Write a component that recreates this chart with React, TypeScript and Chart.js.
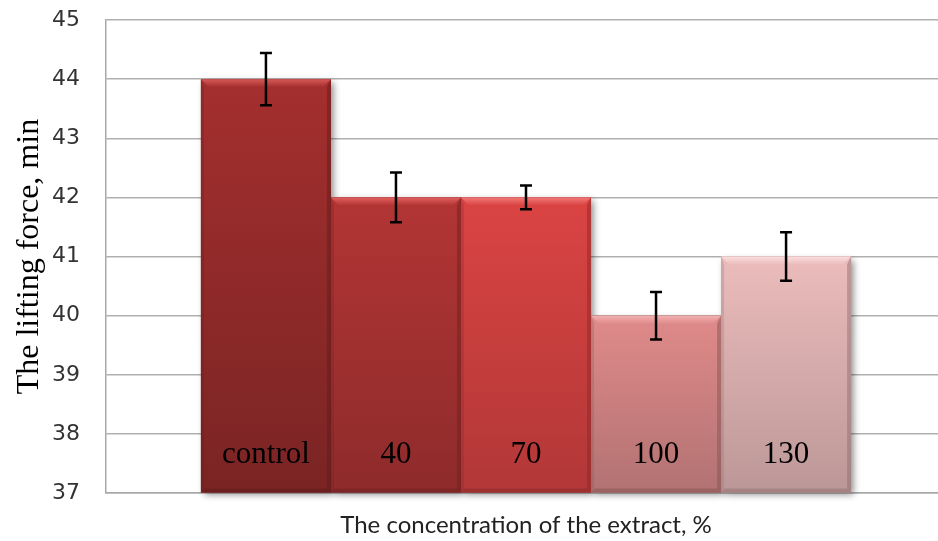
import React, { useEffect, useRef } from "react";
import { Chart, registerables } from "chart.js";

Chart.register(...registerables);

const categories = ["control", "40", "70", "100", "130"];
const values = [44, 42, 42, 40, 41];
const errors = [0.44, 0.42, 0.2, 0.4, 0.41];
const yMin = 37;
const yMax = 45;
const yTitle = "The lifting force, min";
const xTitle = "The concentration of the extract, %";

// style: [top, bottom, bevel-top, side-dark]
const barColors = [
  ["#A42F2E", "#7A2424", "#D65A58", "#5E1A1A"],
  ["#B23534", "#8E2B2B", "#E0605E", "#6A1F1F"],
  ["#DA4443", "#B23737", "#F07876", "#852828"],
  ["#E08A8A", "#B27272", "#F2B0B0", "#7E5050"],
  ["#ECBCBC", "#BC9797", "#FBDDDD", "#8A6A6A"],
];

const barFx = {
  id: "barFx",
  beforeDatasetsDraw(chart: any) {
    const ctx = chart.ctx;
    ctx.save();
    chart.data.datasets.forEach((_: any, i: number) => {
      const el = chart.getDatasetMeta(i).data[0];
      if (!el) return;
      const { x, y, base, width } = el.getProps(["x", "y", "base", "width"], true);
      ctx.shadowColor = "rgba(0,0,0,0.45)";
      ctx.shadowBlur = 7;
      ctx.shadowOffsetX = 3;
      ctx.shadowOffsetY = 3;
      ctx.fillStyle = barColors[i][1];
      ctx.fillRect(x - width / 2, y, width, base - y);
    });
    ctx.restore();
  },
  afterDatasetsDraw(chart: any) {
    const ctx = chart.ctx;
    const yScale = chart.scales.y;
    ctx.save();
    chart.data.datasets.forEach((_: any, i: number) => {
      const el = chart.getDatasetMeta(i).data[0];
      if (!el) return;
      const { x, y, base, width } = el.getProps(["x", "y", "base", "width"], true);
      const l = x - width / 2;
      const r = x + width / 2;
      const b = 8;
      const c = barColors[i];
      // top bevel
      const g = ctx.createLinearGradient(0, y, 0, y + b);
      g.addColorStop(0, c[2]);
      g.addColorStop(1, c[0]);
      ctx.fillStyle = g;
      ctx.beginPath();
      ctx.moveTo(l, y);
      ctx.lineTo(r, y);
      ctx.lineTo(r - b, y + b);
      ctx.lineTo(l + b, y + b);
      ctx.closePath();
      ctx.fill();
      // right side darker
      ctx.globalAlpha = 0.45;
      ctx.fillStyle = c[3];
      ctx.beginPath();
      ctx.moveTo(r, y);
      ctx.lineTo(r, base);
      ctx.lineTo(r - 4, base - 4);
      ctx.lineTo(r - 4, y + b);
      ctx.closePath();
      ctx.fill();
      // bottom darker
      ctx.beginPath();
      ctx.moveTo(l, base);
      ctx.lineTo(r, base);
      ctx.lineTo(r - 4, base - 4);
      ctx.lineTo(l + 4, base - 4);
      ctx.closePath();
      ctx.fill();
      // left side slight dark
      ctx.globalAlpha = 0.25;
      ctx.beginPath();
      ctx.moveTo(l, y);
      ctx.lineTo(l + 3, y + b);
      ctx.lineTo(l + 3, base - 3);
      ctx.lineTo(l, base);
      ctx.closePath();
      ctx.fill();
      ctx.globalAlpha = 1;

      // label inside bar
      ctx.fillStyle = "#000";
      ctx.font = "31px 'Liberation Serif', 'Times New Roman', serif";
      ctx.textAlign = "center";
      ctx.textBaseline = "middle";
      ctx.fillText(categories[i], x, base - 38);

      // error bar
      const top = yScale.getPixelForValue(values[i] + errors[i]);
      const bot = yScale.getPixelForValue(values[i] - errors[i]);
      ctx.strokeStyle = "#000";
      ctx.lineWidth = 2.5;
      ctx.beginPath();
      ctx.moveTo(x, top);
      ctx.lineTo(x, bot);
      ctx.moveTo(x - 6, top);
      ctx.lineTo(x + 6, top);
      ctx.moveTo(x - 6, bot);
      ctx.lineTo(x + 6, bot);
      ctx.stroke();
    });
    ctx.restore();
  },
};

export default function App() {
  const ref = useRef<HTMLCanvasElement>(null);
  useEffect(() => {
    if (!ref.current) return;
    const chart = new Chart(ref.current, {
      type: "bar",
      data: {
        labels: [""],
        datasets: categories.map((c, i) => ({
          label: c,
          data: [values[i]],
          base: yMin,
          borderWidth: 0,
          barPercentage: 1,
          categoryPercentage: 0.774,
          backgroundColor: (ctx: any) => {
            const ch = ctx.chart;
            const area = ch.chartArea;
            if (!area) return barColors[i][0];
            const top = ch.scales.y.getPixelForValue(values[i]);
            const g = ch.ctx.createLinearGradient(0, top, 0, area.bottom);
            g.addColorStop(0, barColors[i][0]);
            g.addColorStop(1, barColors[i][1]);
            return g;
          },
        })),
      },
      options: {
        responsive: false,
        animation: false,
        layout: { padding: { left: 8, top: 0, right: 0, bottom: 1 } },
        plugins: {
          legend: { display: false },
          tooltip: { enabled: false },
        },
        scales: {
          x: {
            grid: { display: false },
            border: { display: true, color: "#a8a8a8", width: 1.5 },
            ticks: { display: false },
            title: {
              display: true,
              text: xTitle,
              color: "#222",
              font: { family: "Lato, 'Open Sans', sans-serif", size: 24 },
              padding: { top: 10, bottom: 0 },
            },
          },
          y: {
            min: yMin,
            max: yMax,
            afterFit: (scale: any) => {
              scale.width = 98;
              scale.paddingTop = 20;
              scale.paddingBottom = 12;
            },
            ticks: {
              stepSize: 1,
              color: "#333",
              padding: 26,
              font: { family: "'DejaVu Sans', Verdana, sans-serif", size: 22 },
            },
            grid: { color: "#b0b0b0", lineWidth: 1.5, drawTicks: false },
            border: { display: true, color: "#a8a8a8", width: 1.5 },
            title: {
              display: true,
              text: yTitle,
              color: "#000",
              font: { family: "'Liberation Serif', 'Times New Roman', serif", size: 32 },
              padding: { top: 2, bottom: 4 },
            },
          },
        },
      },
      plugins: [barFx],
    });
    return () => chart.destroy();
  }, []);
  return (
    <div style={{ position: "fixed", left: 0, top: 0, width: 938, height: 541, overflow: "hidden", background: "#fff" }}>
      <canvas ref={ref} width={946} height={541} style={{ display: "block" }} />
    </div>
  );
}
